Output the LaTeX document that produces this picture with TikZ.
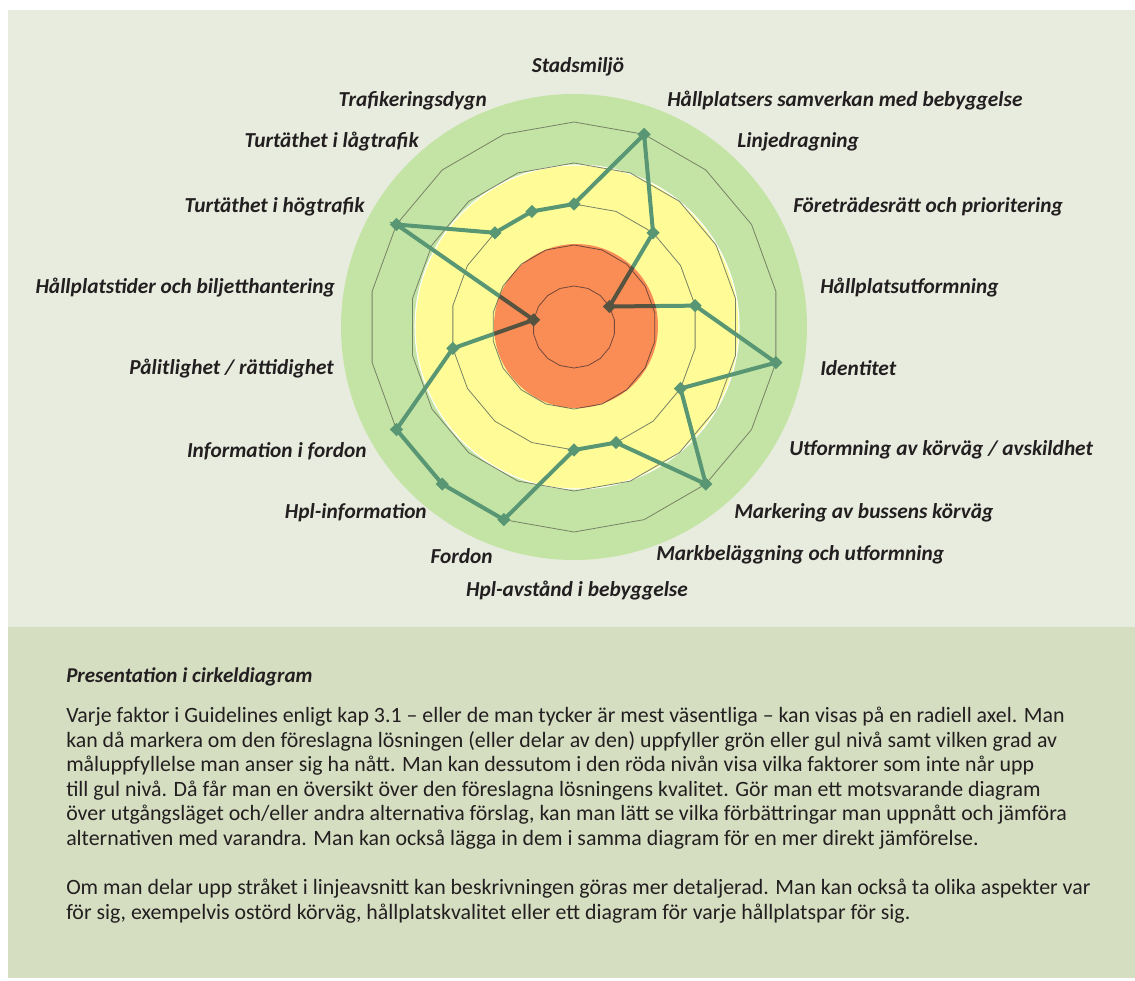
\documentclass[tikz,border=0pt]{standalone}
\usepackage{fontspec}
\setmainfont{Carlito}
\usetikzlibrary{shapes.geometric}
\usepackage{xcolor}
\definecolor{paneltop}{RGB}{232,236,222}
\definecolor{panelbottom}{RGB}{214,222,194}
\definecolor{ringgreen}{RGB}{196,228,166}
\definecolor{ringyellow}{RGB}{255,252,152}
\definecolor{ringred}{RGB}{250,142,145}
\definecolor{gridgrey}{RGB}{120,130,100}
\definecolor{lineteal}{RGB}{88,150,116}
\definecolor{inkdark}{RGB}{35,31,32}
\pgfdeclarelayer{back}
\pgfdeclarelayer{front}
\pgfsetlayers{back,main,front}

\begin{document}
\begin{tikzpicture}[x=0.75pt,y=-0.75pt]
    % styles
    \tikzset{axislabel/.style={inner sep=0pt,text=inkdark,font=\fontsize{16}{19}\selectfont\bfseries\itshape},
             marker/.style={diamond,fill=lineteal,inner sep=0pt,minimum size=10pt},
             gridline/.style={draw=gridgrey,line width=0.6pt},
             dataline/.style={draw=lineteal,line width=3pt,line join=miter}}
    \useasboundingbox (0,0) rectangle (1135,981);

    % panels
    \begin{pgfonlayer}{back}
    \fill[paneltop] (8,10) rectangle (1135,627);
    \fill[panelbottom] (8,627) rectangle (1135,978);
    \end{pgfonlayer}

    \begin{scope}[shift={(574,327)}]
    % levels and grid
    \begin{pgfonlayer}{back}
    \fill[ringgreen] (0,0) circle[radius=233];
    \fill[ringyellow,draw=white,line width=0.8pt] (3,0) circle[radius=162];
    \foreach \k in {1,...,5}
        \draw[gridline] (-90:41*\k) \foreach \a in {1,...,17}{ -- (20*\a-90:41*\k)} -- cycle;
    \end{pgfonlayer}

    % data points
    \begin{pgfonlayer}{front}
    \foreach \v [count=\i from 0] in {3,5,3,1,3,5,3,5,3,3,5,5,5,3,1,5,3,3}
        \node[marker] (d\i) at (20*\i-90:41*\v) {};
    \fill[ringred,blend mode=multiply] (2,-1) circle[radius=82];
    \end{pgfonlayer}
    \draw[dataline] (d0.center) \foreach \i in {1,...,17}{ -- (d\i.center)} -- cycle;
    \end{scope}

    % axis labels
    \node[axislabel] (stadsmiljo) at (578,67) {Stadsmiljö};
    \node[axislabel,anchor=west] (samverkan) at (667,101) {Hållplatsers samverkan med bebyggelse};
    \node[axislabel,anchor=west] (linjedragning) at (737,142) {Linjedragning};
    \node[axislabel,anchor=west] (foretrade) at (793,207) {Företrädesrätt och prioritering};
    \node[axislabel,anchor=west] (hplutform) at (820,288) {Hållplatsutformning};
    \node[axislabel,anchor=west] (identitet) at (820,368) {Identitet};
    \node[axislabel,anchor=west] (korvag) at (789,450) {Utformning av körväg / avskildhet};
    \node[axislabel,anchor=west] (markering) at (734,513) {Markering av bussens körväg};
    \node[axislabel,anchor=west] (markbel) at (656,555) {Markbeläggning och utformning};
    \node[axislabel] (hplavstand) at (577,591) {Hpl-avstånd i bebyggelse};
    \node[axislabel,anchor=east] (fordon) at (493,556) {Fordon};
    \node[axislabel,anchor=east] (hplinfo) at (427,513) {Hpl-information};
    \node[axislabel,anchor=east] (infofordon) at (367,451) {Information i fordon};
    \node[axislabel,anchor=east] (palitlighet) at (334,369) {Pålitlighet / rättidighet};
    \node[axislabel,anchor=east] (hpltider) at (335,288) {Hållplatstider och biljetthantering};
    \node[axislabel,anchor=east] (hogtrafik) at (365,207) {Turtäthet i högtrafik};
    \node[axislabel,anchor=east] (lagtrafik) at (419,142) {Turtäthet i lågtrafik};
    \node[axislabel,anchor=east] (dygn) at (487,101) {Trafikeringsdygn};

    % text below
    \node[anchor=west,inner sep=0pt,text=inkdark,font=\fontsize{15.8}{18}\selectfont\bfseries\itshape] (rubrik) at (66,677) {Presentation i cirkeldiagram};
    \node[anchor=north west,inner sep=0pt,text=inkdark,align=left,font=\fontsize{16.4}{18.4}\selectfont] (brodtext) at (66,707) {Varje faktor i Guidelines enligt kap 3.1 – eller de man tycker är mest väsentliga – kan visas på en radiell axel. Man\\
        kan då markera om den föreslagna lösningen (eller delar av den) uppfyller grön eller gul nivå samt vilken grad av\\
        måluppfyllelse man anser sig ha nått. Man kan dessutom i den röda nivån visa vilka faktorer som inte når upp\\
        till gul nivå. Då får man en översikt över den föreslagna lösningens kvalitet. Gör man ett motsvarande diagram\\
        över utgångsläget och/eller andra alternativa förslag, kan man lätt se vilka förbättringar man uppnått och jämföra\\
        alternativen med varandra. Man kan också lägga in dem i samma diagram för en mer direkt jämförelse.\\[18.4pt]
        Om man delar upp stråket i linjeavsnitt kan beskrivningen göras mer detaljerad. Man kan också ta olika aspekter var\\
        för sig, exempelvis ostörd körväg, hållplatskvalitet eller ett diagram för varje hållplatspar för sig.};
\end{tikzpicture}
\end{document}
